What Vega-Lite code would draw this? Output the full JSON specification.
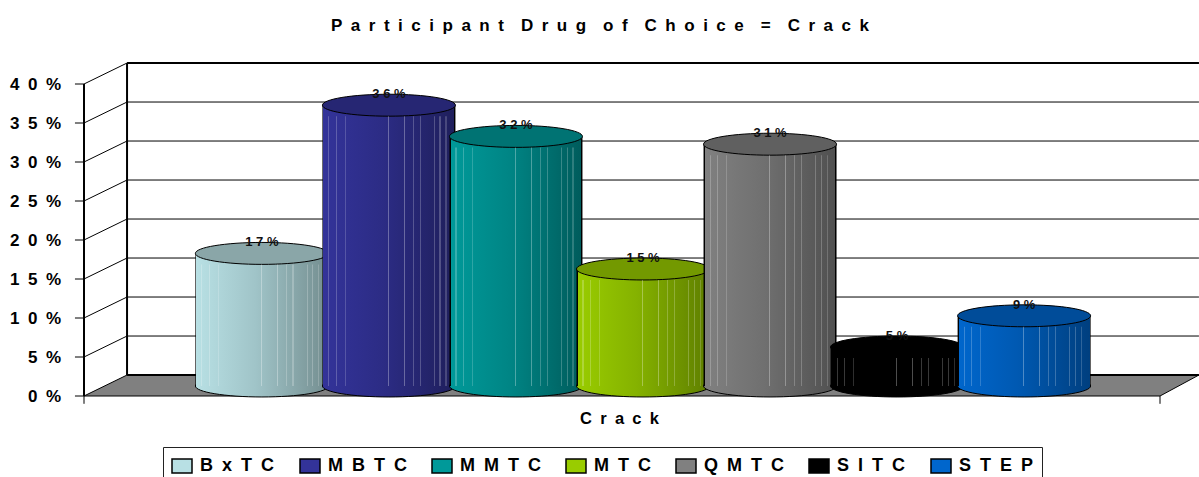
{
  "$schema": "https://vega.github.io/schema/vega-lite/v6.json",
  "width": 1076,
  "height": 312,
  "autosize": {"type": "none"},
  "padding": {"left": 84, "top": 84, "right": 39, "bottom": 81},
  "background": "white",
  "title": {
    "text": "P\u2002a\u2002r\u2002t\u2002i\u2002c\u2002i\u2002p\u2002a\u2002n\u2002t\u2002\u2002D\u2002r\u2002u\u2002g\u2002\u2002o\u2002f\u2002\u2002C\u2002h\u2002o\u2002i\u2002c\u2002e\u2002\u2002=\u2002\u2002C\u2002r\u2002a\u2002c\u2002k",
    "font": "Liberation Sans", "fontWeight": "bold", "fontSize": 17, "color": "black",
    "anchor": "middle", "dx": -22, "offset": 27
  },
  "datasets": {
    "series": [
      {"drug": "Crack", "program": "BxTC", "share": 0.17},
      {"drug": "Crack", "program": "MBTC", "share": 0.36},
      {"drug": "Crack", "program": "MMTC", "share": 0.32},
      {"drug": "Crack", "program": "MTC", "share": 0.15},
      {"drug": "Crack", "program": "QMTC", "share": 0.31},
      {"drug": "Crack", "program": "SITC", "share": 0.05},
      {"drug": "Crack", "program": "STEP", "share": 0.09}
    ],
    "floor": [
      {"a": 0, "low": 0, "high": 0},
      {"a": 0.04, "low": 0, "high": 0.0269},
      {"a": 1, "low": 0, "high": 0.0269},
      {"a": 1.0362, "low": 0.0269, "high": 0.0269}
    ],
    "ticks": [
      {"a": 0, "tick": 0}, {"a": 0, "tick": 0.05}, {"a": 0, "tick": 0.1},
      {"a": 0, "tick": 0.15}, {"a": 0, "tick": 0.2}, {"a": 0, "tick": 0.25},
      {"a": 0, "tick": 0.3}, {"a": 0, "tick": 0.35}, {"a": 0, "tick": 0.4}
    ],
    "grid": [
      {"a": 0.04, "b": 1.0362, "p": 0.0769, "q": 0.0769},
      {"a": 0.04, "b": 1.0362, "p": 0.1269, "q": 0.1269},
      {"a": 0.04, "b": 1.0362, "p": 0.1769, "q": 0.1769},
      {"a": 0.04, "b": 1.0362, "p": 0.2269, "q": 0.2269},
      {"a": 0.04, "b": 1.0362, "p": 0.2769, "q": 0.2769},
      {"a": 0.04, "b": 1.0362, "p": 0.3269, "q": 0.3269},
      {"a": 0.04, "b": 1.0362, "p": 0.3769, "q": 0.3769},
      {"a": 0, "b": 0.04, "p": 0.05, "q": 0.0769},
      {"a": 0, "b": 0.04, "p": 0.1, "q": 0.1269},
      {"a": 0, "b": 0.04, "p": 0.15, "q": 0.1769},
      {"a": 0, "b": 0.04, "p": 0.2, "q": 0.2269},
      {"a": 0, "b": 0.04, "p": 0.25, "q": 0.2769},
      {"a": 0, "b": 0.04, "p": 0.3, "q": 0.3269},
      {"a": 0, "b": 0.04, "p": 0.35, "q": 0.3769},
      {"a": 0, "b": 0.04, "p": 0.4, "q": 0.4269},
      {"a": 0, "b": 0.04, "p": 0, "q": 0.0269},
      {"a": 1, "b": 1.0362, "p": 0, "q": 0.0269},
      {"a": 0, "b": 1, "p": 0, "q": 0},
      {"a": 1, "b": 1, "p": 0, "q": -0.01},
      {"a": 0, "b": 0, "p": 0, "q": -0.01},
      {"a": -0.0084, "b": 0, "p": 0, "q": 0},
      {"a": -0.0084, "b": 0, "p": 0.05, "q": 0.05},
      {"a": -0.0084, "b": 0, "p": 0.1, "q": 0.1},
      {"a": -0.0084, "b": 0, "p": 0.15, "q": 0.15},
      {"a": -0.0084, "b": 0, "p": 0.2, "q": 0.2},
      {"a": -0.0084, "b": 0, "p": 0.25, "q": 0.25},
      {"a": -0.0084, "b": 0, "p": 0.3, "q": 0.3},
      {"a": -0.0084, "b": 0, "p": 0.35, "q": 0.35},
      {"a": -0.0084, "b": 0, "p": 0.4, "q": 0.4}
    ],
    "wall": [
      {"a": 0.04, "b": 0.04, "p": 0.0269, "q": 0.4269},
      {"a": 0.04, "b": 1.0362, "p": 0.4269, "q": 0.4269},
      {"a": 0.04, "b": 1.0362, "p": 0.0269, "q": 0.0269},
      {"a": 0, "b": 0, "p": 0, "q": 0.4}
    ]
  },
  "layer": [
    {
      "data": {"name": "floor"},
      "mark": {"type": "area", "orient": "vertical", "color": "#808080"},
      "encoding": {
        "x": {"field": "a", "type": "quantitative", "scale": {"domain": [0, 1]}, "axis": null},
        "y": {"field": "low", "type": "quantitative", "scale": {"domain": [0, 0.4], "nice": false}},
        "y2": {"field": "high"}
      }
    },
    {
      "data": {"name": "grid"},
      "mark": {"type": "rule", "color": "black", "strokeWidth": 1},
      "encoding": {
        "x": {"field": "a", "type": "quantitative", "scale": {"domain": [0, 1]}, "axis": null},
        "x2": {"field": "b"},
        "y": {"field": "p", "type": "quantitative"},
        "y2": {"field": "q"}
      }
    },
    {
      "data": {"name": "wall"},
      "mark": {"type": "rule", "color": "black", "strokeWidth": 2},
      "encoding": {
        "x": {"field": "a", "type": "quantitative", "scale": {"domain": [0, 1]}, "axis": null},
        "x2": {"field": "b"},
        "y": {"field": "p", "type": "quantitative"},
        "y2": {"field": "q"}
      }
    },
    {
      "data": {"name": "ticks"},
      "transform": [{"calculate": "join(split(format(datum.tick, '.0%'), ''), '\u2002')", "as": "caption"}],
      "mark": {"type": "text", "font": "Liberation Sans", "fontWeight": "bold", "fontSize": 17, "color": "black",
        "align": "right", "baseline": "middle", "dx": -23, "dy": 1},
      "encoding": {
        "x": {"field": "a", "type": "quantitative", "scale": {"domain": [0, 1]}, "axis": null},
        "y": {"field": "tick", "type": "quantitative"},
        "text": {"field": "caption"}
      }
    },
    {
      "data": {"name": "series"},
      "mark": {"type": "point", "filled": true, "opacity": 0, "size": 1},
      "encoding": {
        "x": {"field": "drug", "type": "nominal", "scale": {"range": [21, 1097], "paddingOuter": 0.105, "paddingInner": 0},
          "axis": {"title": null, "domain": false, "ticks": false, "labelAngle": 0,
            "labelFont": "Liberation Sans", "labelFontWeight": "bold", "labelFontSize": 16.5,
            "labelColor": "black", "labelPadding": 14, "labelOffset": -24,
            "labelExpr": "join(split(datum.label, ''), '\u2002')"}},
        "y": {"datum": 0, "type": "quantitative"},
        "color": {
          "field": "program", "type": "nominal",
          "scale": {"domain": ["BxTC", "MBTC", "MMTC", "MTC", "QMTC", "SITC", "STEP"],
            "range": ["#B8E0E4", "#333399", "#009999", "#99CC00", "#808080", "#000000", "#0066CC"]},
          "legend": {
            "title": null, "orient": "none", "legendX": 79, "legendY": 363,
            "direction": "horizontal", "columns": 7, "columnPadding": 22,
            "padding": 8, "strokeColor": "#222222", "fillColor": "white",
            "symbolType": "M-1,-0.7H1V0.7H-1Z", "symbolSize": 400, "symbolOpacity": 1,
            "symbolStrokeColor": "black", "symbolStrokeWidth": 1.5,
            "labelFont": "Liberation Sans", "labelFontWeight": "bold", "labelFontSize": 18,
            "labelColor": "black", "labelOffset": 7, "labelLimit": 200,
            "labelExpr": "join(split(datum.label, ''), '\u2002')"
          }
        }
      }
    },
    {
      "data": {"name": "series"},
      "encoding": {
        "x": {"field": "drug", "type": "nominal", "scale": {"range": [21, 1097], "paddingOuter": 0.105, "paddingInner": 0}, "axis": null},
        "xOffset": {"field": "program", "type": "nominal", "scale": {"paddingInner": 0, "paddingOuter": 0}}
      },
      "layer": [
        {"transform": [{"filter": "datum.program === 'BxTC'"}],
         "mark": {"type": "point", "filled": true, "opacity": 1, "size": 17689, "stroke": "black", "strokeWidth": 1, "yOffset": -10, "shape": "M-1,0A1,0.165,0,1,1,1,0A1,0.165,0,1,1,-1,0Z",
           "fill": {"gradient": "linear", "x1": 0, "x2": 1, "y1": 0, "y2": 0, "stops": [{"offset": 0, "color": "#B8E0E4"}, {"offset": 0.45, "color": "#A0C4C8"}, {"offset": 1, "color": "#748E90"}]}},
         "encoding": {"y": {"datum": 0, "type": "quantitative"}}},
        {"transform": [{"filter": "datum.program === 'BxTC'"}],
         "mark": {"type": "bar", "size": 133, "yOffset": -10, "y2Offset": -10,
           "fill": {"gradient": "linear", "x1": 0, "x2": 1, "y1": 0, "y2": 0, "stops": [{"offset": 0, "color": "#000"}, {"offset": 0.008, "color": "#000"}, {"offset": 0.008, "color": "#B8E0E4"}, {"offset": 0.45, "color": "#A0C4C8"}, {"offset": 0.992, "color": "#748E90"}, {"offset": 0.992, "color": "#000"}, {"offset": 1, "color": "#000"}]}},
         "encoding": {"y": {"field": "share", "type": "quantitative"}, "y2": {"datum": 0}}},
        {"transform": [{"filter": "datum.program === 'BxTC'"}],
         "mark": {"type": "point", "filled": true, "opacity": 1, "size": 17689, "fill": "#8AA6A8", "stroke": "black", "strokeWidth": 1, "yOffset": -10, "shape": "M-1,0A1,0.165,0,1,1,1,0A1,0.165,0,1,1,-1,0Z"},
         "encoding": {"y": {"field": "share", "type": "quantitative"}}},
        {"transform": [{"filter": "datum.program === 'MBTC'"}],
         "mark": {"type": "point", "filled": true, "opacity": 1, "size": 17689, "stroke": "black", "strokeWidth": 1, "yOffset": -10, "shape": "M-1,0A1,0.165,0,1,1,1,0A1,0.165,0,1,1,-1,0Z",
           "fill": {"gradient": "linear", "x1": 0, "x2": 1, "y1": 0, "y2": 0, "stops": [{"offset": 0, "color": "#333399"}, {"offset": 0.45, "color": "#2C2C85"}, {"offset": 1, "color": "#1F1F5C"}]}},
         "encoding": {"y": {"datum": 0, "type": "quantitative"}}},
        {"transform": [{"filter": "datum.program === 'MBTC'"}],
         "mark": {"type": "bar", "size": 133, "yOffset": -10, "y2Offset": -10,
           "fill": {"gradient": "linear", "x1": 0, "x2": 1, "y1": 0, "y2": 0, "stops": [{"offset": 0, "color": "#000"}, {"offset": 0.008, "color": "#000"}, {"offset": 0.008, "color": "#333399"}, {"offset": 0.45, "color": "#2C2C85"}, {"offset": 0.992, "color": "#1F1F5C"}, {"offset": 0.992, "color": "#000"}, {"offset": 1, "color": "#000"}]}},
         "encoding": {"y": {"field": "share", "type": "quantitative"}, "y2": {"datum": 0}}},
        {"transform": [{"filter": "datum.program === 'MBTC'"}],
         "mark": {"type": "point", "filled": true, "opacity": 1, "size": 17689, "fill": "#262673", "stroke": "black", "strokeWidth": 1, "yOffset": -10, "shape": "M-1,0A1,0.165,0,1,1,1,0A1,0.165,0,1,1,-1,0Z"},
         "encoding": {"y": {"field": "share", "type": "quantitative"}}},
        {"transform": [{"filter": "datum.program === 'MMTC'"}],
         "mark": {"type": "point", "filled": true, "opacity": 1, "size": 17689, "stroke": "black", "strokeWidth": 1, "yOffset": -10, "shape": "M-1,0A1,0.165,0,1,1,1,0A1,0.165,0,1,1,-1,0Z",
           "fill": {"gradient": "linear", "x1": 0, "x2": 1, "y1": 0, "y2": 0, "stops": [{"offset": 0, "color": "#009999"}, {"offset": 0.45, "color": "#008585"}, {"offset": 1, "color": "#005C5C"}]}},
         "encoding": {"y": {"datum": 0, "type": "quantitative"}}},
        {"transform": [{"filter": "datum.program === 'MMTC'"}],
         "mark": {"type": "bar", "size": 133, "yOffset": -10, "y2Offset": -10,
           "fill": {"gradient": "linear", "x1": 0, "x2": 1, "y1": 0, "y2": 0, "stops": [{"offset": 0, "color": "#000"}, {"offset": 0.008, "color": "#000"}, {"offset": 0.008, "color": "#009999"}, {"offset": 0.45, "color": "#008585"}, {"offset": 0.992, "color": "#005C5C"}, {"offset": 0.992, "color": "#000"}, {"offset": 1, "color": "#000"}]}},
         "encoding": {"y": {"field": "share", "type": "quantitative"}, "y2": {"datum": 0}}},
        {"transform": [{"filter": "datum.program === 'MMTC'"}],
         "mark": {"type": "point", "filled": true, "opacity": 1, "size": 17689, "fill": "#007373", "stroke": "black", "strokeWidth": 1, "yOffset": -10, "shape": "M-1,0A1,0.165,0,1,1,1,0A1,0.165,0,1,1,-1,0Z"},
         "encoding": {"y": {"field": "share", "type": "quantitative"}}},
        {"transform": [{"filter": "datum.program === 'MTC'"}],
         "mark": {"type": "point", "filled": true, "opacity": 1, "size": 17689, "stroke": "black", "strokeWidth": 1, "yOffset": -10, "shape": "M-1,0A1,0.165,0,1,1,1,0A1,0.165,0,1,1,-1,0Z",
           "fill": {"gradient": "linear", "x1": 0, "x2": 1, "y1": 0, "y2": 0, "stops": [{"offset": 0, "color": "#99CC00"}, {"offset": 0.45, "color": "#85B200"}, {"offset": 1, "color": "#5F7F00"}]}},
         "encoding": {"y": {"datum": 0, "type": "quantitative"}}},
        {"transform": [{"filter": "datum.program === 'MTC'"}],
         "mark": {"type": "bar", "size": 133, "yOffset": -10, "y2Offset": -10,
           "fill": {"gradient": "linear", "x1": 0, "x2": 1, "y1": 0, "y2": 0, "stops": [{"offset": 0, "color": "#000"}, {"offset": 0.008, "color": "#000"}, {"offset": 0.008, "color": "#99CC00"}, {"offset": 0.45, "color": "#85B200"}, {"offset": 0.992, "color": "#5F7F00"}, {"offset": 0.992, "color": "#000"}, {"offset": 1, "color": "#000"}]}},
         "encoding": {"y": {"field": "share", "type": "quantitative"}, "y2": {"datum": 0}}},
        {"transform": [{"filter": "datum.program === 'MTC'"}],
         "mark": {"type": "point", "filled": true, "opacity": 1, "size": 17689, "fill": "#739900", "stroke": "black", "strokeWidth": 1, "yOffset": -10, "shape": "M-1,0A1,0.165,0,1,1,1,0A1,0.165,0,1,1,-1,0Z"},
         "encoding": {"y": {"field": "share", "type": "quantitative"}}},
        {"transform": [{"filter": "datum.program === 'QMTC'"}],
         "mark": {"type": "point", "filled": true, "opacity": 1, "size": 17689, "stroke": "black", "strokeWidth": 1, "yOffset": -10, "shape": "M-1,0A1,0.165,0,1,1,1,0A1,0.165,0,1,1,-1,0Z",
           "fill": {"gradient": "linear", "x1": 0, "x2": 1, "y1": 0, "y2": 0, "stops": [{"offset": 0, "color": "#808080"}, {"offset": 0.45, "color": "#707070"}, {"offset": 1, "color": "#505050"}]}},
         "encoding": {"y": {"datum": 0, "type": "quantitative"}}},
        {"transform": [{"filter": "datum.program === 'QMTC'"}],
         "mark": {"type": "bar", "size": 133, "yOffset": -10, "y2Offset": -10,
           "fill": {"gradient": "linear", "x1": 0, "x2": 1, "y1": 0, "y2": 0, "stops": [{"offset": 0, "color": "#000"}, {"offset": 0.008, "color": "#000"}, {"offset": 0.008, "color": "#808080"}, {"offset": 0.45, "color": "#707070"}, {"offset": 0.992, "color": "#505050"}, {"offset": 0.992, "color": "#000"}, {"offset": 1, "color": "#000"}]}},
         "encoding": {"y": {"field": "share", "type": "quantitative"}, "y2": {"datum": 0}}},
        {"transform": [{"filter": "datum.program === 'QMTC'"}],
         "mark": {"type": "point", "filled": true, "opacity": 1, "size": 17689, "fill": "#606060", "stroke": "black", "strokeWidth": 1, "yOffset": -10, "shape": "M-1,0A1,0.165,0,1,1,1,0A1,0.165,0,1,1,-1,0Z"},
         "encoding": {"y": {"field": "share", "type": "quantitative"}}},
        {"transform": [{"filter": "datum.program === 'SITC'"}],
         "mark": {"type": "point", "filled": true, "opacity": 1, "size": 17689, "stroke": "black", "strokeWidth": 1, "yOffset": -10, "shape": "M-1,0A1,0.165,0,1,1,1,0A1,0.165,0,1,1,-1,0Z", "fill": "#000000"},
         "encoding": {"y": {"datum": 0, "type": "quantitative"}}},
        {"transform": [{"filter": "datum.program === 'SITC'"}],
         "mark": {"type": "bar", "size": 133, "yOffset": -10, "y2Offset": -10, "fill": "#000000"},
         "encoding": {"y": {"field": "share", "type": "quantitative"}, "y2": {"datum": 0}}},
        {"transform": [{"filter": "datum.program === 'SITC'"}],
         "mark": {"type": "point", "filled": true, "opacity": 1, "size": 17689, "fill": "#000000", "stroke": "black", "strokeWidth": 1, "yOffset": -10, "shape": "M-1,0A1,0.165,0,1,1,1,0A1,0.165,0,1,1,-1,0Z"},
         "encoding": {"y": {"field": "share", "type": "quantitative"}}},
        {"transform": [{"filter": "datum.program === 'STEP'"}],
         "mark": {"type": "point", "filled": true, "opacity": 1, "size": 17689, "stroke": "black", "strokeWidth": 1, "yOffset": -10, "shape": "M-1,0A1,0.165,0,1,1,1,0A1,0.165,0,1,1,-1,0Z",
           "fill": {"gradient": "linear", "x1": 0, "x2": 1, "y1": 0, "y2": 0, "stops": [{"offset": 0, "color": "#0066CC"}, {"offset": 0.45, "color": "#0059B2"}, {"offset": 1, "color": "#003F7F"}]}},
         "encoding": {"y": {"datum": 0, "type": "quantitative"}}},
        {"transform": [{"filter": "datum.program === 'STEP'"}],
         "mark": {"type": "bar", "size": 133, "yOffset": -10, "y2Offset": -10,
           "fill": {"gradient": "linear", "x1": 0, "x2": 1, "y1": 0, "y2": 0, "stops": [{"offset": 0, "color": "#000"}, {"offset": 0.008, "color": "#000"}, {"offset": 0.008, "color": "#0066CC"}, {"offset": 0.45, "color": "#0059B2"}, {"offset": 0.992, "color": "#003F7F"}, {"offset": 0.992, "color": "#000"}, {"offset": 1, "color": "#000"}]}},
         "encoding": {"y": {"field": "share", "type": "quantitative"}, "y2": {"datum": 0}}},
        {"transform": [{"filter": "datum.program === 'STEP'"}],
         "mark": {"type": "point", "filled": true, "opacity": 1, "size": 17689, "fill": "#004C99", "stroke": "black", "strokeWidth": 1, "yOffset": -10, "shape": "M-1,0A1,0.165,0,1,1,1,0A1,0.165,0,1,1,-1,0Z"},
         "encoding": {"y": {"field": "share", "type": "quantitative"}}},
        {
          "mark": {
            "type": "bar", "size": 133, "yOffset": 1, "y2Offset": -10,
            "fill": {
              "gradient": "linear", "x1": 0, "x2": 1, "y1": 0, "y2": 0,
              "stops": [
                {"offset": 0.045, "color": "rgba(255,255,255,0)"}, {"offset": 0.045, "color": "rgba(255,255,255,0.22)"}, {"offset": 0.053, "color": "rgba(255,255,255,0.22)"}, {"offset": 0.053, "color": "rgba(255,255,255,0)"},
                {"offset": 0.1, "color": "rgba(255,255,255,0)"}, {"offset": 0.1, "color": "rgba(255,255,255,0.22)"}, {"offset": 0.108, "color": "rgba(255,255,255,0.22)"}, {"offset": 0.108, "color": "rgba(255,255,255,0)"},
                {"offset": 0.17, "color": "rgba(255,255,255,0)"}, {"offset": 0.17, "color": "rgba(255,255,255,0.18)"}, {"offset": 0.178, "color": "rgba(255,255,255,0.18)"}, {"offset": 0.178, "color": "rgba(255,255,255,0)"},
                {"offset": 0.49, "color": "rgba(255,255,255,0)"}, {"offset": 0.49, "color": "rgba(255,255,255,0.3)"}, {"offset": 0.498, "color": "rgba(255,255,255,0.3)"}, {"offset": 0.498, "color": "rgba(255,255,255,0)"},
                {"offset": 0.61, "color": "rgba(255,255,255,0)"}, {"offset": 0.61, "color": "rgba(255,255,255,0.3)"}, {"offset": 0.618, "color": "rgba(255,255,255,0.3)"}, {"offset": 0.618, "color": "rgba(255,255,255,0)"},
                {"offset": 0.68, "color": "rgba(255,255,255,0)"}, {"offset": 0.68, "color": "rgba(255,255,255,0.22)"}, {"offset": 0.688, "color": "rgba(255,255,255,0.22)"}, {"offset": 0.688, "color": "rgba(255,255,255,0)"},
                {"offset": 0.73, "color": "rgba(255,255,255,0)"}, {"offset": 0.73, "color": "rgba(255,255,255,0.22)"}, {"offset": 0.738, "color": "rgba(255,255,255,0.22)"}, {"offset": 0.738, "color": "rgba(255,255,255,0)"},
                {"offset": 0.84, "color": "rgba(255,255,255,0)"}, {"offset": 0.84, "color": "rgba(255,255,255,0.22)"}, {"offset": 0.848, "color": "rgba(255,255,255,0.22)"}, {"offset": 0.848, "color": "rgba(255,255,255,0)"},
                {"offset": 0.88, "color": "rgba(255,255,255,0)"}, {"offset": 0.88, "color": "rgba(255,255,255,0.22)"}, {"offset": 0.888, "color": "rgba(255,255,255,0.22)"}, {"offset": 0.888, "color": "rgba(255,255,255,0)"},
                {"offset": 0.925, "color": "rgba(255,255,255,0)"}, {"offset": 0.925, "color": "rgba(255,255,255,0.18)"}, {"offset": 0.933, "color": "rgba(255,255,255,0.18)"}, {"offset": 0.933, "color": "rgba(255,255,255,0)"}
              ]
            }
          },
          "encoding": {"y": {"field": "share", "type": "quantitative"}, "y2": {"datum": 0}}
        },
        {
          "transform": [{"calculate": "join(split(format(datum.share, '.0%'), ''), ' ')", "as": "caption"}],
          "mark": {"type": "text", "font": "Liberation Sans", "fontWeight": "bold", "fontSize": 13, "color": "#111111",
            "baseline": "middle", "yOffset": -21},
          "encoding": {
            "y": {"field": "share", "type": "quantitative"},
            "text": {"field": "caption"}
          }
        }
      ]
    }
  ],
  "resolve": {
    "scale": {"x": "independent", "xOffset": "independent", "color": "independent"},
    "axis": {"x": "independent"},
    "legend": {"color": "independent"}
  },
  "config": {"view": {"stroke": null}, "axisY": {"disable": true}}
}
